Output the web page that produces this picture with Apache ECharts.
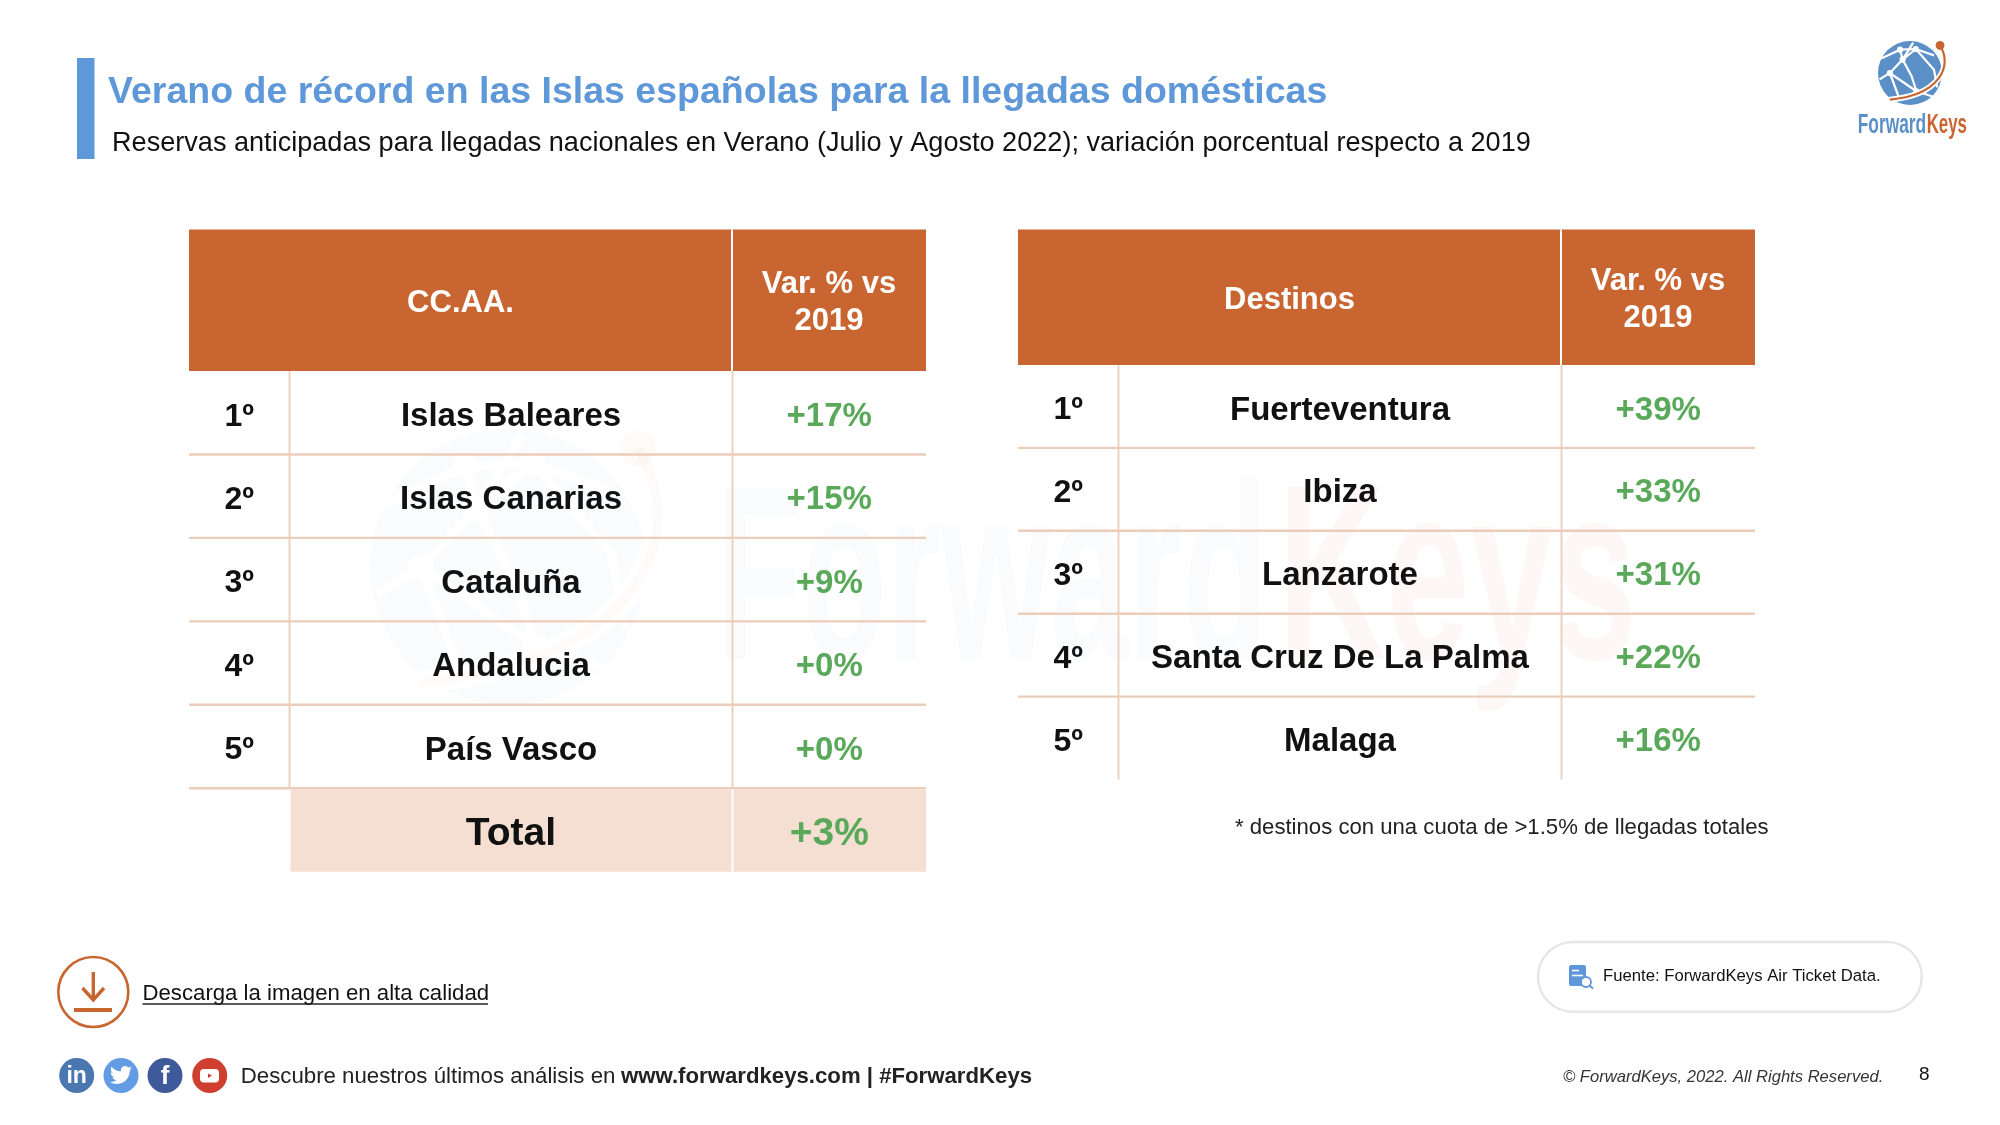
<!DOCTYPE html>
<html lang="es">
<head>
    <meta charset="UTF-8">
    <title>Verano de récord</title>
    <style>html,body{margin:0;padding:0;background:#fff}</style>
    <script src="https://cdn.jsdelivr.net/npm/echarts@6/dist/echarts.min.js"></script>
</head>
<body>
<div id="main" style="width:2000px;height:1125px;"></div>
<script type="text/javascript">
    // datos de las dos tablas
    var regionHeader = 'CC.AA.';
    var destinoHeader = 'Destinos';
    var varHeader = 'Var. % vs\n2019';
    var ranks = ['1º', '2º', '3º', '4º', '5º'];
    var regionNames = ['Islas Baleares', 'Islas Canarias', 'Cataluña', 'Andalucia', 'País Vasco', 'Total'];
    var regionVar = [17, 15, 9, 0, 0, 3];
    var destinoNames = ['Fuerteventura', 'Ibiza', 'Lanzarote', 'Santa Cruz De La Palma', 'Malaga'];
    var destinoVar = [39, 33, 31, 22, 16];

    var FONT = '"Liberation Sans", Arial, sans-serif';
    var ORANGE = '#c96530', BLUE = '#5f98d8', LINE = '#eccdba', GREEN = '#5aa95a', INK = '#111111';
    var COL_RANK = 100.5, COL_NAME = 543.5, COL_END = 737;   // bordes de columna en unidades del eje x
    var BIRD = 'M23.953 4.57a10 10 0 0 1-2.825.775 4.958 4.958 0 0 0 2.163-2.723c-.951.555-2.005.959-3.127 1.184a4.92 4.92 0 0 0-8.384 4.482C7.69 8.095 4.067 6.13 1.64 3.162a4.822 4.822 0 0 0-.666 2.475c0 1.71.87 3.213 2.188 4.096a4.904 4.904 0 0 1-2.228-.616v.06a4.923 4.923 0 0 0 3.946 4.827 4.996 4.996 0 0 1-2.212.085 4.936 4.936 0 0 0 4.604 3.417 9.867 9.867 0 0 1-6.102 2.105c-.39 0-.779-.023-1.17-.067a13.995 13.995 0 0 0 7.557 2.209c9.053 0 13.998-7.496 13.998-13.985 0-.21 0-.42-.015-.63A9.935 9.935 0 0 0 24 4.59z';

    function cellText(x, y, text, size, color) {
        return {type: 'text', z2: 5, style: {text: text, x: x, y: y, fill: color, fontFamily: FONT, fontSize: size,
            fontWeight: 'bold', align: 'center', verticalAlign: 'middle'}};
    }

    function renderRow(names, params, api) {
        var i = api.value(0), v = api.value(1);
        var p0 = api.coord([0, i]), h = api.size([0, 1])[1];
        var top = p0[1] - h / 2, bottom = p0[1] + h / 2, cy = p0[1] + 4;
        var x0 = p0[0], x1 = api.coord([COL_RANK, i])[0], x2 = api.coord([COL_NAME, i])[0], x3 = api.coord([COL_END, i])[0];
        var isTotal = i === 5;
        var isLast = i === names.length - 1;
        var kids = [];
        if (isTotal) {
            kids.push({type: 'rect', shape: {x: x1 + 1, y: top + 1.2, width: x3 - x1 - 1, height: h - 1.2}, style: {fill: '#f4dfd2'}});
            kids.push({type: 'line', shape: {x1: x2, y1: top + 1.2, x2: x2, y2: bottom}, style: {stroke: '#ffffff', lineWidth: 2}});
        } else {
            kids.push({type: 'line', shape: {x1: x1, y1: top, x2: x1, y2: bottom}, style: {stroke: LINE, lineWidth: 1.8}});
            kids.push({type: 'line', shape: {x1: x2, y1: top, x2: x2, y2: bottom}, style: {stroke: LINE, lineWidth: 1.8}});
            if (!isLast) {
                kids.push({type: 'line', shape: {x1: x0, y1: bottom, x2: x3, y2: bottom}, style: {stroke: LINE, lineWidth: 2.4}});
            }
            kids.push(cellText((x0 + x1) / 2, cy, ranks[i], 32, INK));
        }
        kids.push(cellText((x1 + x2) / 2, cy, names[i], isTotal ? 39 : 33, INK));
        kids.push(cellText((x2 + x3) / 2, cy, '+' + v + '%', isTotal ? 39 : 33, GREEN));
        return {type: 'group', children: kids};
    }

    function rowSeries(idx, names, values) {
        return {
            type: 'custom', xAxisIndex: idx, yAxisIndex: idx, z: 3, clip: false,
            encode: {x: 1, y: 0},
            data: names.map(function (n, i) { return [i, values[i]]; }),
            renderItem: function (params, api) { return renderRow(names, params, api); }
        };
    }

    // textos y adornos fijos de la lámina
    function label(x, y, text, size, o) {
        o = o || {};
        return {type: 'text', z: o.z || 10, x: x, y: y, scaleX: o.sx || 1, style: {text: text, fill: o.color || INK, fontFamily: FONT,
            fontSize: size, fontWeight: o.weight || 'normal', fontStyle: o.italic ? 'italic' : 'normal', opacity: o.opacity == null ? 1 : o.opacity,
            lineHeight: o.lh, align: o.align || 'left', verticalAlign: o.va || 'middle'}};
    }

    function header(x0, x1, x2, top, bottom, title, ty, vy) {
        return [
            {type: 'rect', z: 4, shape: {x: x0, y: top, width: x2 - x0, height: bottom - top}, style: {fill: ORANGE}},
            {type: 'line', z: 5, shape: {x1: x1, y1: top, x2: x1, y2: bottom}, style: {stroke: '#ffffff', lineWidth: 2}},
            label((x0 + x1) / 2, ty, title, 31, {color: '#ffffff', weight: 'bold', align: 'center'}),
            label((x1 + x2) / 2, vy, varHeader, 31, {color: '#ffffff', weight: 'bold', align: 'center', lh: 37})
        ];
    }

    function globe(cx, cy, r, alpha, lw, z) {
        var P = function (a, b) { return [cx + a * r, cy + b * r]; };
        var out = [{type: 'circle', z: z, shape: {cx: cx, cy: cy, r: r}, style: {fill: '#5a8fc7', opacity: alpha}}];
        var nets = [
            [[-.9, -.45], [-.31, -.73], [.18, -.75], [.75, -.55]],
            [[-.31, -.73], [-.23, -.42], [-.63, 0], [-.95, .2]],
            [[.18, -.75], [-.23, -.42], [.05, .1], [.2, .57], [.75, .75]],
            [[-.63, 0], [.2, .57]],
            [[-.63, 0], [-.35, .75]],
            [[.18, -.75], [.75, -.1], [.85, .45]],
            [[-.23, -.42], [.1, -.95]]
        ];
        nets.forEach(function (n) {
            out.push({type: 'polyline', z: z + 1, shape: {points: n.map(function (q) { return P(q[0], q[1]); })}, style: {stroke: '#ffffff', lineWidth: lw, fill: null}});
        });
        [[-.31, -.73], [.18, -.75], [-.23, -.42], [-.63, 0], [.2, .57]].forEach(function (q) {
            var c = P(q[0], q[1]);
            out.push({type: 'circle', z: z + 1, shape: {cx: c[0], cy: c[1], r: lw * 1.4}, style: {fill: '#ffffff'}});
        });
        var a = P(.94, -.86), c1 = P(1.35, -.2), c2 = P(.9, .7), b = P(-.63, .83);
        var arc = {x1: a[0], y1: a[1], cpx1: c1[0], cpy1: c1[1], cpx2: c2[0], cpy2: c2[1], x2: b[0], y2: b[1]};
        out.push({type: 'bezierCurve', z: z + 2, shape: arc, style: {stroke: '#ffffff', lineWidth: lw * 2.6, fill: null}});
        out.push({type: 'bezierCurve', z: z + 3, shape: arc, style: {stroke: ORANGE, lineWidth: lw, fill: null, opacity: alpha}});
        out.push({type: 'circle', z: z + 3, shape: {cx: a[0], cy: a[1], r: lw * 2}, style: {fill: ORANGE, opacity: alpha}});
        return out;
    }

    function socialIcons() {
        var y = 1075.5, r = 17.5;
        return [
            {type: 'circle', z: 10, shape: {cx: 76.7, cy: y, r: r}, style: {fill: '#4a77b0'}},
            {type: 'circle', z: 10, shape: {cx: 121, cy: y, r: r}, style: {fill: '#639ce4'}},
            {type: 'circle', z: 10, shape: {cx: 165, cy: y, r: r}, style: {fill: '#3f5a9a'}},
            {type: 'circle', z: 10, shape: {cx: 209.7, cy: y, r: r}, style: {fill: '#cf3f30'}},
            label(76.7, y + 1, 'in', 23, {color: '#fff', weight: 'bold', align: 'center', z: 11}),
            label(165, y + 1, 'f', 26, {color: '#fff', weight: 'bold', align: 'center', z: 11}),
            {type: 'rect', z: 11, shape: {x: 200, y: y - 6.5, width: 19, height: 13.5, r: 4}, style: {fill: '#ffffff'}},
            {type: 'polygon', z: 12, shape: {points: [[208, y - 2], [208, y + 2.5], [212, y]]}, style: {fill: '#cf3f30'}}
        ];
    }

    var graphics = []
        // marca de agua
        .concat(globe(508, 567, 138, 0.035, 9, 0))
        .concat([
            label(716, 715, 'Forward', 250, {color: '#5a8fc7', opacity: 0.03, va: 'bottom', sx: 0.56, z: 1, weight: 'bold'}),
            label(1278, 715, 'Keys', 250, {color: ORANGE, opacity: 0.045, va: 'bottom', sx: 0.6, z: 1, weight: 'bold'}),
            // cabecera
            {type: 'rect', z: 10, shape: {x: 77, y: 58, width: 17.5, height: 101}, style: {fill: BLUE}},
            label(108, 93, 'Verano de récord en las Islas españolas para la llegadas domésticas', 37.5, {color: BLUE, weight: 'bold'}),
            label(112, 144, 'Reservas anticipadas para llegadas nacionales en Verano (Julio y Agosto 2022); variación porcentual respecto a 2019', 27.1, {color: INK}),
            // logo
            label(1857.7, 139, 'Forward', 28, {color: '#5a8fc7', va: 'bottom', sx: 0.62, weight: 'bold'}),
            label(1926.7, 139, 'Keys', 28, {color: ORANGE, va: 'bottom', sx: 0.6, weight: 'bold'}),
            // nota
            label(1235, 827.5, '* destinos con una cuota de >1.5% de llegadas totales', 22.15, {color: '#222'}),
            // descarga
            {type: 'circle', z: 10, shape: {cx: 93.3, cy: 992, r: 35}, style: {fill: 'none', stroke: ORANGE, lineWidth: 2.6}},
            {type: 'line', z: 10, shape: {x1: 93.3, y1: 972, x2: 93.3, y2: 1000}, style: {stroke: ORANGE, lineWidth: 3.4}},
            {type: 'polyline', z: 10, shape: {points: [[82.5, 988], [93.3, 1000], [104, 988]]}, style: {stroke: ORANGE, lineWidth: 3.4, fill: null}},
            {type: 'line', z: 10, shape: {x1: 74, y1: 1010, x2: 112, y2: 1010}, style: {stroke: ORANGE, lineWidth: 4}},
            label(142.5, 994, 'Descarga la imagen en alta calidad', 22.2, {color: INK}),
            {type: 'line', z: 10, shape: {x1: 142.5, y1: 1004, x2: 488, y2: 1004}, style: {stroke: '#222', lineWidth: 1.6}},
            // pie
            label(240.7, 1076.5, 'Descubre nuestros últimos análisis en ', 22.25, {color: '#222'}),
            label(621, 1076.5, 'www.forwardkeys.com | #ForwardKeys', 22.2, {color: '#222', weight: 'bold'}),
            // fuente
            {type: 'rect', z: 10, shape: {x: 1538, y: 942, width: 383.7, height: 69.7, r: 34.8}, style: {fill: '#ffffff', stroke: '#e6e6e6', lineWidth: 2.4}},
            {type: 'rect', z: 11, shape: {x: 1569, y: 965, width: 17, height: 21, r: 2}, style: {fill: BLUE}},
            {type: 'line', z: 12, shape: {x1: 1572, y1: 970.5, x2: 1579, y2: 970.5}, style: {stroke: '#fff', lineWidth: 1.6}},
            {type: 'line', z: 12, shape: {x1: 1572, y1: 975.5, x2: 1583, y2: 975.5}, style: {stroke: '#fff', lineWidth: 1.6}},
            {type: 'circle', z: 12, shape: {cx: 1586, cy: 982, r: 5}, style: {fill: '#fff', stroke: BLUE, lineWidth: 1.8}},
            {type: 'line', z: 12, shape: {x1: 1589.5, y1: 985.5, x2: 1593, y2: 988.5}, style: {stroke: BLUE, lineWidth: 2}},
            label(1603, 976, 'Fuente: ForwardKeys Air Ticket Data.', 16.7, {color: INK}),
            label(1563, 1077, '© ForwardKeys, 2022. All Rights Reserved.', 16.6, {color: '#333', italic: true}),
            label(1919, 1075, '8', 19, {color: INK})
        ])
        .concat(header(189, 732, 926, 229.5, 371, regionHeader, 303, 303))
        .concat(header(1018, 1561, 1755, 229.5, 365, destinoHeader, 300.5, 300))
        .concat(globe(1910, 73, 32, 1, 2.2, 20))
        .concat(socialIcons());

    var myChart = echarts.init(document.getElementById('main'));
    myChart.setOption({
        animation: false,
        backgroundColor: '#ffffff',
        textStyle: {fontFamily: FONT},
        grid: [
            {left: 189, top: 371, width: 737, height: 500.7},
            {left: 1018, top: 365, width: 737, height: 414.5}
        ],
        xAxis: [
            {type: 'value', gridIndex: 0, min: 0, max: COL_END, show: false},
            {type: 'value', gridIndex: 1, min: 0, max: COL_END, show: false}
        ],
        yAxis: [
            {type: 'category', gridIndex: 0, inverse: true, show: false, data: regionNames},
            {type: 'category', gridIndex: 1, inverse: true, show: false, data: destinoNames}
        ],
        series: [
            rowSeries(0, regionNames, regionVar),
            rowSeries(1, destinoNames, destinoVar),
            {
                // el pájaro del icono de Twitter: solo la serie custom acepta pathData
                type: 'custom', coordinateSystem: 'none', z: 20, data: [0],
                renderItem: function () {
                    return {type: 'path', shape: {pathData: BIRD, x: 110, y: 1066, width: 22, height: 18, layout: 'cover'}, style: {fill: '#ffffff'}};
                }
            }
        ],
        graphic: {elements: graphics}
    });
</script>
</body>
</html>
